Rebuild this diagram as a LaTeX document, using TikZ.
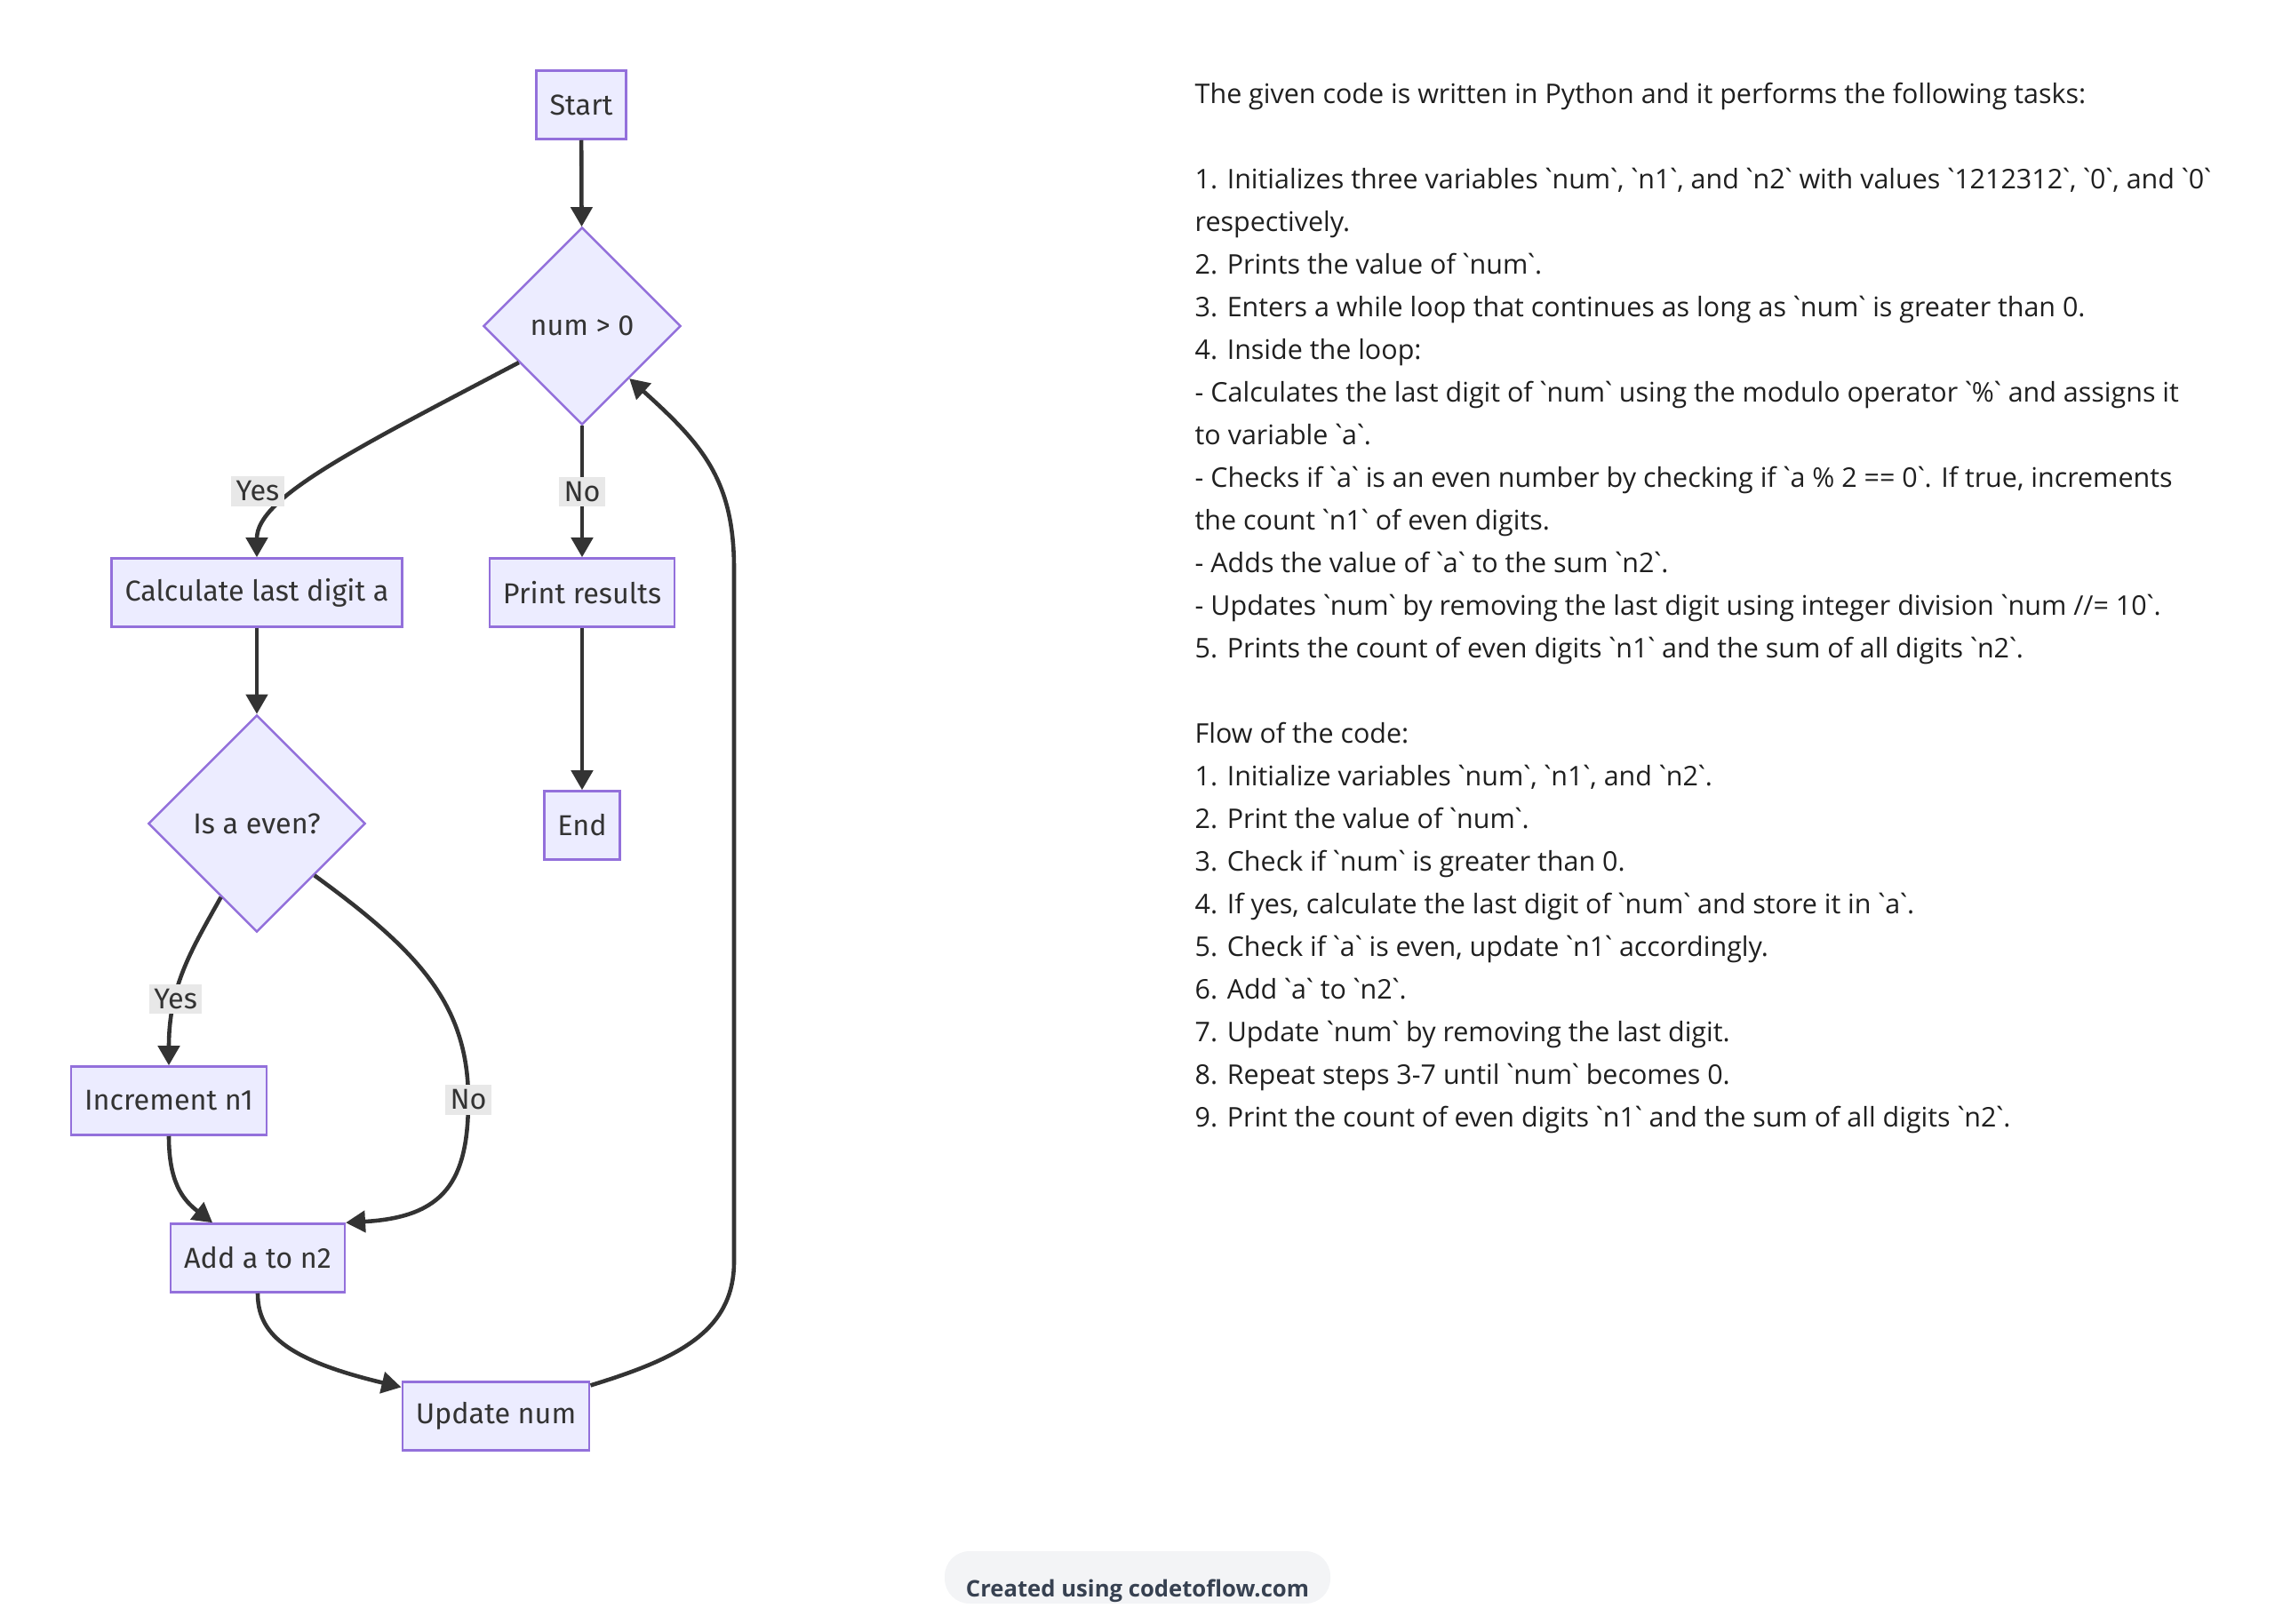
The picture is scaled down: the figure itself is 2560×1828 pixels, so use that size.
\documentclass[tikz,border=0pt]{standalone}
\usepackage{fontspec}
\setmainfont{Open Sans}
\newfontfamily\flowfont{Fira Sans}
\usetikzlibrary{shapes.geometric,arrows.meta}
\definecolor{boxfill}{HTML}{ECECFF}
\definecolor{boxline}{HTML}{9370DB}
\definecolor{edgeline}{HTML}{333333}
\definecolor{lblfill}{HTML}{E8E8E8}
\definecolor{pillfill}{HTML}{F3F4F6}
\definecolor{pilltext}{HTML}{374151}
\newcommand{\bq}{\kern-0.16em\textasciigrave\kern-0.16em}
\tikzset{
  box/.style={draw=boxline, fill=boxfill, line width=0.7pt, text=edgeline,
    font=\flowfont\fontsize{9.2}{11}\selectfont, minimum height=0.77cm, inner xsep=0.15cm},
  test/.style={diamond, aspect=1, draw=boxline, fill=boxfill, line width=0.7pt,
    text=edgeline, font=\flowfont\fontsize{9.2}{11}\selectfont, inner sep=0pt},
  lbl/.style={fill=lblfill, text=edgeline, font=\flowfont\fontsize{9.2}{11}\selectfont,
    inner sep=1.5pt},
  flow/.style={draw=edgeline, line width=1.3pt, -{Triangle[length=0.22cm,width=0.24cm]}},
  note/.style={align=left, inner sep=0pt, text=black!88,
    font=\fontsize{8.66}{13.66}\selectfont},
}
\begin{document}
\begin{tikzpicture}[x=0.01cm, y=-0.01cm]
  \useasboundingbox (0,0) rectangle (2560,1828);
  \node[box] (start) at (654,118) {Start};
  \node[test, minimum width=2.22cm, minimum height=2.22cm] (loop) at (655,367) {num > 0};
  \node[box] (calc) at (289,667) {Calculate last digit a};
  \node[box] (print) at (655,667) {Print results};
  \node[test, minimum width=2.44cm, minimum height=2.44cm] (even) at (289,927) {Is a even?};
  \node[box] (fin) at (655,929) {End};
  \node[box] (inc) at (190,1239) {Increment n1};
  \node[box] (add) at (290,1416) {Add a to n2};
  \node[box] (upd) at (558,1594) {Update num};

  \draw[flow] (start) -- (loop);
  \draw[flow] (loop.210) .. controls (400,505) and (289,560) .. node[lbl, pos=0.62, xshift=-0.45cm] {Yes} (calc.north);
  \draw[flow] (loop) -- node[lbl] {No} (print);
  \draw[flow] (print) -- (fin);
  \draw[flow] (calc) -- (even);
  \draw[flow] (even.244) .. controls (215,1070) and (190,1110) .. node[lbl, pos=0.67] {Yes} (inc.north);
  \draw[flow] (even.318) .. controls (470,1070) and (527,1130) .. (527,1238) node[lbl] {No}
    .. controls (527,1330) and (500,1370) .. (add.north east);
  \draw[flow] (inc.south) .. controls (190,1330) and (205,1350) .. (add.142);
  \draw[flow] (add.south) .. controls (290,1500) and (320,1530) .. (upd.163);
  \draw[flow] (upd.18) .. controls (760,1530) and (826,1500) .. (826,1420) -- (826,640)
    .. controls (826,540) and (790,500) .. (loop.312);

  % description on the right
  \node[note, anchor=north west] (desc) at (1344,92) {%
    The given code is written in Python and it performs the following tasks:\\[13.66pt]
    1. Initializes three variables \bq num\bq, \bq n1\bq, and \bq n2\bq{} with values \bq 1212312\bq, \bq 0\bq, and \bq 0\bq\\
    respectively.\\
    2. Prints the value of \bq num\bq.\\
    3. Enters a while loop that continues as long as \bq num\bq{} is greater than 0.\\
    4. Inside the loop:\\
    - Calculates the last digit of \bq num\bq{} using the modulo operator \bq\%\bq{} and assigns it\\
    to variable \bq a\bq.\\
    - Checks if \bq a\bq{} is an even number by checking if \bq a \% 2 == 0\bq. If true, increments\\
    the count \bq n1\bq{} of even digits.\\
    - Adds the value of \bq a\bq{} to the sum \bq n2\bq.\\
    - Updates \bq num\bq{} by removing the last digit using integer division \bq num //= 10\bq.\\
    5. Prints the count of even digits \bq n1\bq{} and the sum of all digits \bq n2\bq.\\[13.66pt]
    Flow of the code:\\
    1. Initialize variables \bq num\bq, \bq n1\bq, and \bq n2\bq.\\
    2. Print the value of \bq num\bq.\\
    3. Check if \bq num\bq{} is greater than 0.\\
    4. If yes, calculate the last digit of \bq num\bq{} and store it in \bq a\bq.\\
    5. Check if \bq a\bq{} is even, update \bq n1\bq{} accordingly.\\
    6. Add \bq a\bq{} to \bq n2\bq.\\
    7. Update \bq num\bq{} by removing the last digit.\\
    8. Repeat steps 3-7 until \bq num\bq{} becomes 0.\\
    9. Print the count of even digits \bq n1\bq{} and the sum of all digits \bq n2\bq.};

  % credit badge
  \fill[pillfill, rounded corners=0.28cm] (1063,1746) rectangle (1497,1805);
  \node[text=pilltext, font=\bfseries\fontsize{7.3}{9}\selectfont] (credit) at (1280,1791) {Created using codetoflow.com};
\end{tikzpicture}
\end{document}
